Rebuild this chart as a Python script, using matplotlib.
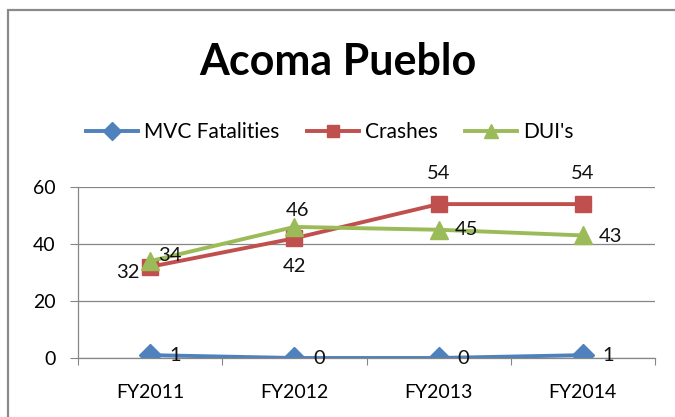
import matplotlib.pyplot as plt
from matplotlib.patches import Rectangle

plt.rcParams['font.family'] = ['Lato', 'DejaVu Sans']

years = ['FY2011', 'FY2012', 'FY2013', 'FY2014']
mvc = [1, 0, 0, 1]
crashes = [32, 42, 54, 54]
duis = [34, 46, 45, 43]

# label offsets (points) for each series
mvc_off = [(18, 0), (18, 0), (18, 0), (18, 0)]
crash_off = [(-16, -4), (0, -20), (0, 22), (0, 22)]
dui_off = [(14, 4), (2, 12), (20, 0), (20, -1)]

fig = plt.figure(figsize=(6.75, 4.17), dpi=100)
fig.patches.append(Rectangle((8 / 675, -0.1), 1.2, 1 - 10 / 417 + 0.1,
                             transform=fig.transFigure, fill=False,
                             edgecolor='#8a8a8a', linewidth=1.6))

ax = fig.add_axes([78 / 675, 1 - 358 / 417, 577 / 675, 171 / 417])
x = range(len(years))

series = [
    ('MVC Fatalities', mvc, '#4f81bd', 'D', 11, mvc_off),
    ('Crashes', crashes, '#c0504d', 's', 11, crash_off),
    ("DUI's", duis, '#9bbb59', '^', 12.5, dui_off),
]
for name, vals, col, mk, ms, offs in series:
    ax.plot(x, vals, color=col, lw=2.8, marker=mk, markersize=ms, label=name)
for name, vals, col, mk, ms, offs in series:
    for i, v in enumerate(vals):
        ax.annotate(str(v), (i, v), xytext=offs[i], textcoords='offset points',
                    ha='center', va='center', fontsize=14.5, color='#111111')

ax.set_xlim(-0.5, 3.5)
ax.set_ylim(0, 60)
ax.set_yticks([0, 20, 40, 60])
ax.set_xticks([-0.5, 0.5, 1.5, 2.5, 3.5])
ax.set_xticklabels([])
ax.set_xticks(list(x), minor=True)
ax.set_xticklabels(years, minor=True, fontsize=14)
ax.tick_params(axis='x', which='minor', length=0, pad=19)
ax.tick_params(axis='x', which='major', length=5, color='#868686', direction='out')
ax.tick_params(axis='y', length=6, color='#868686', labelsize=14, pad=10)
ax.grid(axis='y', color='#868686', lw=0.9)
ax.set_axisbelow(True)
for s in ['top', 'right']:
    ax.spines[s].set_visible(False)
for s in ['left', 'bottom']:
    ax.spines[s].set_color('#868686')
    ax.spines[s].set_linewidth(0.9)

fig.text(0.5, 1 - 62 / 417, 'Acoma Pueblo', ha='center', va='center',
         fontsize=31, fontweight='bold')
fig.legend(loc='center', bbox_to_anchor=(330 / 675, 1 - 132 / 417), ncol=3,
           frameon=False, fontsize=15, handlelength=2.5, handletextpad=0.3,
           columnspacing=1.3, markerscale=0.85)

fig.savefig('out.png', dpi=100)
